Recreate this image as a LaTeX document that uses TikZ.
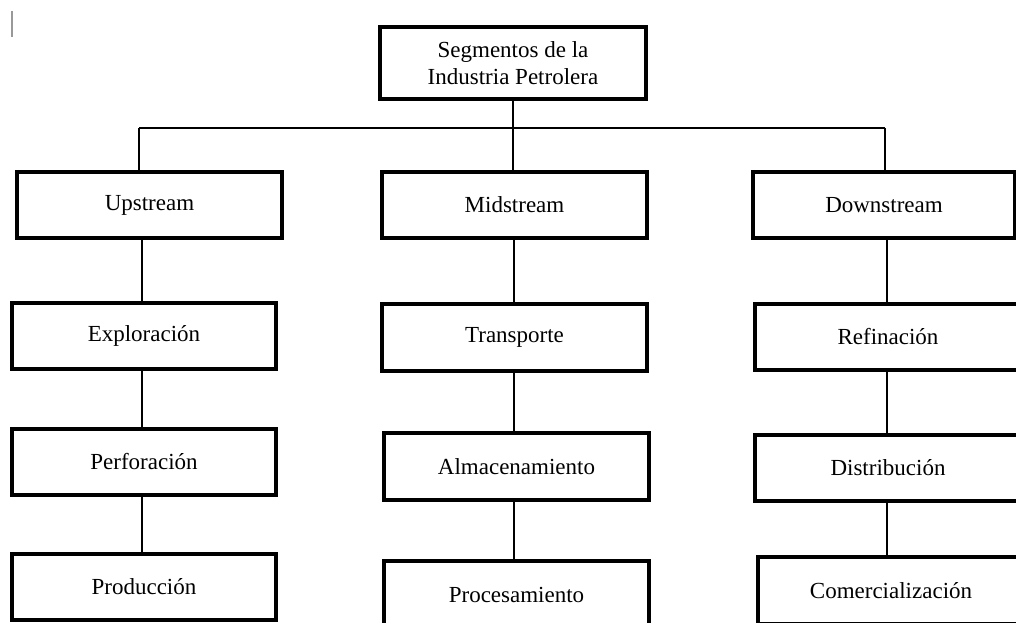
\documentclass[tikz,border=0pt]{standalone}
\usepackage{fontspec}
\setmainfont{Liberation Serif}
\tikzset{
  bx/.style={draw=black, line width=2.4pt, fill=white, rectangle, inner sep=0pt,
    font=\fontsize{17.25}{20.25}\selectfont, align=center},
  sz/.style 2 args={minimum width=#1*0.75pt, minimum height=#2*0.75pt},
  conn/.style={draw=black, line width=1.4pt}
}
\begin{document}
\begin{tikzpicture}[x=0.75pt,y=-0.75pt]
\useasboundingbox (0,0) rectangle (1016,623);
\fill[white] (0,0) rectangle (1016,623);
% text cursor mark
\draw[gray!80, line width=1.1pt] (12,11) -- (12,37);

\coordinate (busL) at (139,128);
\coordinate (busR) at (885,128);
\coordinate (colL) at (142,0);
\coordinate (colM) at (514,0);
\coordinate (colR) at (887,0);

\path (513,63) node[bx, sz={266}{72}] (top) {Segmentos de la\\Industria Petrolera};
\path (149.5,205) node[bx, sz={265}{66}] (up) {Upstream};
\path (514.5,205) node[bx, sz={265}{66}] (mid) {Midstream};
\path (884,205) node[bx, sz={262}{66}] (down) {Downstream};
\path (144,336) node[bx, sz={264}{66}] (exp) {Exploración};
\path (514.5,337.5) node[bx, sz={265}{67}] (tra) {Transporte};
\path (888,337) node[bx, sz={266}{66}] (ref) {Refinación};
\path (144,462) node[bx, sz={264}{66}] (per) {Perforación};
\path (516.5,466.5) node[bx, sz={265}{67}] (alm) {Almacenamiento};
\path (888,468) node[bx, sz={266}{66}] (dis) {Distribución};
\path (144,587) node[bx, sz={264}{66}] (pro) {Producción};
\path (516.5,594.5) node[bx, sz={265}{67}] (prc) {Procesamiento};
\path (891,590.5) node[bx, sz={266}{67}] (com) {Comercialización};

\draw[conn] (top.south) -- (top.south |- busL);
\draw[conn] (busL) -- (busR);
\draw[conn] (busL) -- (busL |- up.north);
\draw[conn] (top.south |- busL) -- (top.south |- mid.north);
\draw[conn] (busR) -- (busR |- down.north);

\draw[conn] (colL |- up.south) -- (colL |- exp.north);
\draw[conn] (colL |- exp.south) -- (colL |- per.north);
\draw[conn] (colL |- per.south) -- (colL |- pro.north);

\draw[conn] (colM |- mid.south) -- (colM |- tra.north);
\draw[conn] (colM |- tra.south) -- (colM |- alm.north);
\draw[conn] (colM |- alm.south) -- (colM |- prc.north);

\draw[conn] (colR |- down.south) -- (colR |- ref.north);
\draw[conn] (colR |- ref.south) -- (colR |- dis.north);
\draw[conn] (colR |- dis.south) -- (colR |- com.north);
\end{tikzpicture}
\end{document}
